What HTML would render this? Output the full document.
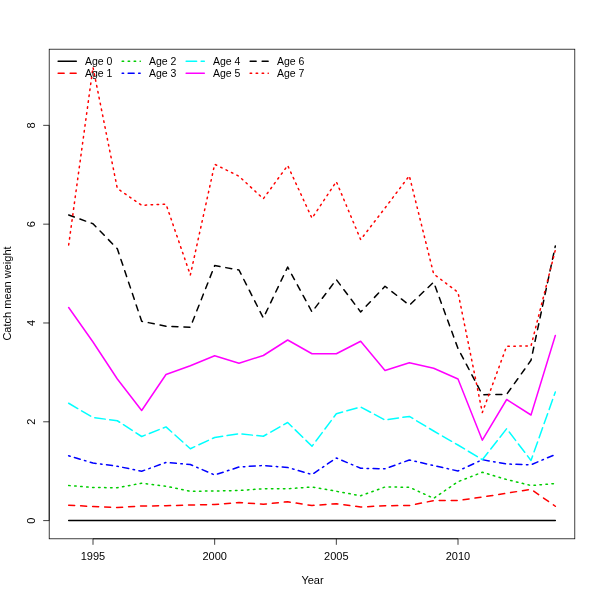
<!DOCTYPE html>
<html><head><meta charset="utf-8"><style>
html,body{margin:0;padding:0;background:#fff;width:600px;height:600px;overflow:hidden}
svg{display:block}
.t{font-family:"Liberation Sans",sans-serif;font-size:11px;fill:#000}
.l{font-family:"Liberation Sans",sans-serif;font-size:10.5px;fill:#000}
</style></head><body>
<svg width="600" height="600" viewBox="0 0 600 600">
<rect width="600" height="600" fill="#fff"/>
<polyline points="68.67,520.60 93.00,520.60 117.33,520.60 141.67,520.60 166.00,520.60 190.33,520.60 214.67,520.60 239.00,520.60 263.33,520.60 287.67,520.60 312.00,520.60 336.33,520.60 360.67,520.60 385.00,520.60 409.33,520.60 433.67,520.60 458.00,520.60 482.33,520.60 506.67,520.60 531.00,520.60 555.33,520.60" fill="none" stroke="#000000" stroke-width="1.5" stroke-linecap="round" stroke-linejoin="round"/>
<polyline points="68.67,505.25 93.00,506.50 117.33,507.50 141.67,506.00 166.00,505.75 190.33,505.00 214.67,504.50 239.00,502.50 263.33,504.25 287.67,501.75 312.00,505.50 336.33,503.75 360.67,507.00 385.00,505.75 409.33,505.50 433.67,500.60 458.00,500.60 482.33,497.00 506.67,493.25 531.00,489.25 555.33,506.25" fill="none" stroke="#FF0000" stroke-width="1.5" stroke-linecap="round" stroke-linejoin="round" stroke-dasharray="6.0 6.0"/>
<polyline points="68.67,485.50 93.00,487.50 117.33,487.75 141.67,483.25 166.00,486.25 190.33,491.25 214.67,491.00 239.00,490.50 263.33,488.75 287.67,488.75 312.00,487.00 336.33,491.25 360.67,495.75 385.00,487.00 409.33,487.20 433.67,498.30 458.00,481.70 482.33,472.30 506.67,479.50 531.00,485.50 555.33,483.50" fill="none" stroke="#00CD00" stroke-width="1.5" stroke-linecap="round" stroke-linejoin="round" stroke-dasharray="1.5 4.5"/>
<polyline points="68.67,455.75 93.00,463.00 117.33,466.25 141.67,471.25 166.00,462.50 190.33,464.50 214.67,475.00 239.00,467.00 263.33,465.50 287.67,467.50 312.00,474.50 336.33,458.00 360.67,468.25 385.00,468.75 409.33,460.00 433.67,465.50 458.00,471.00 482.33,459.70 506.67,464.00 531.00,464.80 555.33,454.50" fill="none" stroke="#0000FF" stroke-width="1.5" stroke-linecap="round" stroke-linejoin="round" stroke-dasharray="1.5 4.5 6.0 4.5"/>
<polyline points="68.67,403.25 93.00,417.50 117.33,420.75 141.67,436.50 166.00,426.90 190.33,448.75 214.67,437.50 239.00,433.75 263.33,436.25 287.67,422.50 312.00,446.25 336.33,413.75 360.67,407.00 385.00,420.00 409.33,416.40 433.67,431.00 458.00,445.00 482.33,459.70 506.67,428.70 531.00,460.50 555.33,392.00" fill="none" stroke="#00FFFF" stroke-width="1.5" stroke-linecap="round" stroke-linejoin="round" stroke-dasharray="10.5 4.5"/>
<polyline points="68.67,307.50 93.00,342.00 117.33,379.00 141.67,410.50 166.00,374.50 190.33,365.80 214.67,355.75 239.00,363.25 263.33,355.50 287.67,340.00 312.00,353.75 336.33,353.75 360.67,341.25 385.00,370.50 409.33,362.70 433.67,368.30 458.00,379.00 482.33,440.20 506.67,399.50 531.00,415.00 555.33,335.50" fill="none" stroke="#FF00FF" stroke-width="1.5" stroke-linecap="round" stroke-linejoin="round"/>
<polyline points="68.67,215.00 93.00,223.75 117.33,248.75 141.67,321.25 166.00,326.25 190.33,327.20 214.67,265.60 239.00,270.00 263.33,318.00 287.67,267.00 312.00,312.00 336.33,279.60 360.67,312.00 385.00,286.25 409.33,305.20 433.67,282.20 458.00,348.50 482.33,394.70 506.67,394.30 531.00,360.30 555.33,246.00" fill="none" stroke="#000000" stroke-width="1.5" stroke-linecap="round" stroke-linejoin="round" stroke-dasharray="6.0 6.0"/>
<polyline points="68.67,245.00 93.00,67.30 117.33,188.50 141.67,205.30 166.00,204.10 190.33,275.00 214.67,164.25 239.00,176.25 263.33,198.75 287.67,165.50 312.00,218.25 336.33,181.60 360.67,239.60 385.00,208.00 409.33,175.80 433.67,274.00 458.00,292.30 482.33,412.50 506.67,346.20 531.00,346.00 555.33,250.00" fill="none" stroke="#FF0000" stroke-width="1.5" stroke-linecap="round" stroke-linejoin="round" stroke-dasharray="1.5 4.5"/>
<rect x="49.2" y="49.2" width="525.5999999999999" height="489.59999999999997" fill="none" stroke="#000" stroke-width="0.75"/>
<line x1="49.2" y1="520.60" x2="49.2" y2="125.35" stroke="#000" stroke-width="0.75"/>
<line x1="93.00" y1="538.8" x2="458.00" y2="538.8" stroke="#000" stroke-width="0.75"/>
<line x1="49.2" y1="520.60" x2="43.2" y2="520.60" stroke="#000" stroke-width="0.75"/>
<line x1="49.2" y1="421.79" x2="43.2" y2="421.79" stroke="#000" stroke-width="0.75"/>
<line x1="49.2" y1="322.98" x2="43.2" y2="322.98" stroke="#000" stroke-width="0.75"/>
<line x1="49.2" y1="224.16" x2="43.2" y2="224.16" stroke="#000" stroke-width="0.75"/>
<line x1="49.2" y1="125.35" x2="43.2" y2="125.35" stroke="#000" stroke-width="0.75"/>
<line x1="93.00" y1="538.8" x2="93.00" y2="544.8" stroke="#000" stroke-width="0.75"/>
<line x1="214.67" y1="538.8" x2="214.67" y2="544.8" stroke="#000" stroke-width="0.75"/>
<line x1="336.33" y1="538.8" x2="336.33" y2="544.8" stroke="#000" stroke-width="0.75"/>
<line x1="458.00" y1="538.8" x2="458.00" y2="544.8" stroke="#000" stroke-width="0.75"/>
<line x1="58.15" y1="61.25" x2="76.30" y2="61.25" stroke="#000000" stroke-width="1.5" stroke-linecap="round"/>
<line x1="58.15" y1="73.25" x2="76.30" y2="73.25" stroke="#FF0000" stroke-width="1.5" stroke-linecap="round" stroke-dasharray="6.0 6.0"/>
<line x1="122.15" y1="61.25" x2="140.30" y2="61.25" stroke="#00CD00" stroke-width="1.5" stroke-linecap="round" stroke-dasharray="1.5 4.5"/>
<line x1="122.15" y1="73.25" x2="140.30" y2="73.25" stroke="#0000FF" stroke-width="1.5" stroke-linecap="round" stroke-dasharray="1.5 4.5 6.0 4.5"/>
<line x1="186.15" y1="61.25" x2="204.30" y2="61.25" stroke="#00FFFF" stroke-width="1.5" stroke-linecap="round" stroke-dasharray="10.5 4.5"/>
<line x1="186.15" y1="73.25" x2="204.30" y2="73.25" stroke="#FF00FF" stroke-width="1.5" stroke-linecap="round"/>
<line x1="250.15" y1="61.25" x2="268.30" y2="61.25" stroke="#000000" stroke-width="1.5" stroke-linecap="round" stroke-dasharray="6.0 6.0"/>
<line x1="250.15" y1="73.25" x2="268.30" y2="73.25" stroke="#FF0000" stroke-width="1.5" stroke-linecap="round" stroke-dasharray="1.5 4.5"/>
</svg>
<svg width="600" height="600" viewBox="0 0 600 600" style="position:absolute;left:0;top:0;will-change:transform">
<text transform="translate(34.6,520.60) rotate(-90)" text-anchor="middle" class="t">0</text>
<text transform="translate(34.6,421.79) rotate(-90)" text-anchor="middle" class="t">2</text>
<text transform="translate(34.6,322.98) rotate(-90)" text-anchor="middle" class="t">4</text>
<text transform="translate(34.6,224.16) rotate(-90)" text-anchor="middle" class="t">6</text>
<text transform="translate(34.6,125.35) rotate(-90)" text-anchor="middle" class="t">8</text>
<text x="93.00" y="560" text-anchor="middle" class="t">1995</text>
<text x="214.67" y="560" text-anchor="middle" class="t">2000</text>
<text x="336.33" y="560" text-anchor="middle" class="t">2005</text>
<text x="458.00" y="560" text-anchor="middle" class="t">2010</text>
<text x="312.5" y="583.8" text-anchor="middle" class="t">Year</text>
<text transform="translate(11,293.5) rotate(-90)" text-anchor="middle" class="t">Catch mean weight</text>
<text x="85.00" y="64.85" class="l">Age 0</text>
<text x="85.00" y="76.85" class="l">Age 1</text>
<text x="149.00" y="64.85" class="l">Age 2</text>
<text x="149.00" y="76.85" class="l">Age 3</text>
<text x="213.00" y="64.85" class="l">Age 4</text>
<text x="213.00" y="76.85" class="l">Age 5</text>
<text x="277.00" y="64.85" class="l">Age 6</text>
<text x="277.00" y="76.85" class="l">Age 7</text>
</svg>
</body></html>
